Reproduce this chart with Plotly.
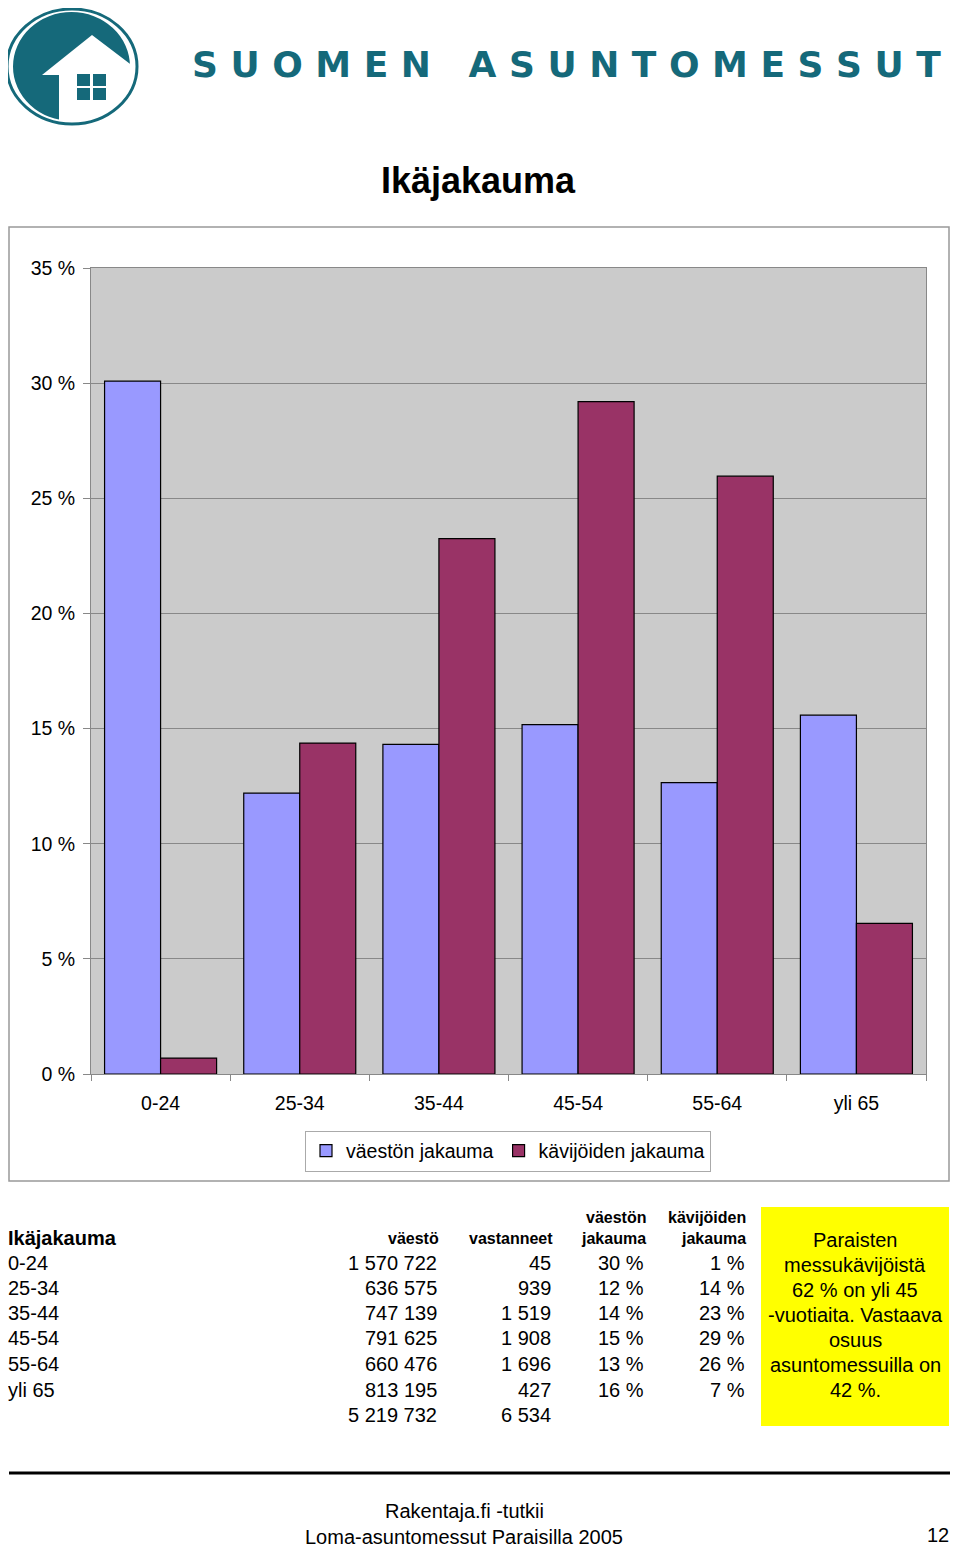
import plotly.graph_objects as go

W, H = 960, 1545

# data
ika = ["0-24", "25-34", "35-44", "45-54", "55-64", "yli 65"]
vaesto = ["1 570 722", "636 575", "747 139", "791 625", "660 476", "813 195"]
vastanneet = ["45", "939", "1 519", "1 908", "1 696", "427"]
vaeston_jakauma = [30.09, 12.20, 14.31, 15.17, 12.65, 15.58]
kavijoiden_jakauma = [0.69, 14.37, 23.25, 29.20, 25.96, 6.54]
vaeston_txt = ["30 %", "12 %", "14 %", "15 %", "13 %", "16 %"]
kavijoiden_txt = ["1 %", "14 %", "23 %", "29 %", "26 %", "7 %"]
yhteensa = ["5 219 732", "6 534"]
y_ticks = [0, 5, 10, 15, 20, 25, 30, 35]
y_labels = ["0 %", "5 %", "10 %", "15 %", "20 %", "25 %", "30 %", "35 %"]

TEAL = "#15697a"
FONT = "Liberation Sans, Arial, sans-serif"
OFF = 8  # page body margin


def X(px):
    return (px - OFF) / W


def Y(py):
    return 1 - (py - OFF) / H


fig = go.Figure()
fig.add_trace(go.Bar(x=ika, y=vaeston_jakauma, name="väestön jakauma",
                     marker=dict(color="#9999ff", line=dict(color="black", width=1.2))))
fig.add_trace(go.Bar(x=ika, y=kavijoiden_jakauma, name="kävijöiden jakauma",
                     marker=dict(color="#993366", line=dict(color="black", width=1.2))))

fig.update_layout(
    width=W, height=H,
    margin=dict(l=0, r=0, t=0, b=0, autoexpand=False),
    paper_bgcolor="white",
    plot_bgcolor="#cbcbcb",
    barmode="group", bargap=0.195, bargroupgap=0,
    font=dict(family=FONT, size=19.5, color="black"),
    showlegend=True,
    legend=dict(orientation="h", x=X(508), y=Y(1151), xanchor="center", yanchor="middle",
                bordercolor="#aaaaaa", borderwidth=1, font=dict(size=19.5),
                itemwidth=30, tracegroupgap=0),
)
fig.update_xaxes(domain=[X(91), X(926)], showline=True, linecolor="#888888", mirror=True,
                 ticks="outside", tickson="boundaries", ticklen=6, tickcolor="#888888",
                 ticklabelstandoff=12, tickfont=dict(size=19.5), showgrid=False, automargin=False)
fig.update_yaxes(domain=[Y(1074), Y(268)], range=[0, 35], tickvals=y_ticks, ticktext=y_labels,
                 showline=True, linecolor="#888888", mirror=True, ticks="outside", ticklen=7,
                 tickcolor="#888888", gridcolor="#888888", gridwidth=1, tickfont=dict(size=19.5),
                 ticklabelstandoff=4, zeroline=False, automargin=False)

shapes = []
# chart area frame
shapes.append(dict(type="rect", xref="paper", yref="paper", x0=X(9), x1=X(949), y0=Y(1181), y1=Y(227),
                   line=dict(color="#999999", width=1.5), layer="below"))
# logo
shapes.append(dict(type="circle", xref="paper", yref="paper", x0=X(13), x1=X(130), y0=Y(121), y1=Y(12),
                   fillcolor=TEAL, line=dict(width=0)))
shapes.append(dict(type="path", xref="paper", yref="paper",
                   path="M {} {} L {} {} L {} {} L {} {} L {} {} L {} {} Z".format(
                       X(92), Y(35), X(42), Y(75), X(59), Y(75), X(59), Y(128), X(142), Y(128), X(142), Y(73)),
                   fillcolor="white", line=dict(width=0)))
shapes.append(dict(type="circle", xref="paper", yref="paper", x0=X(7), x1=X(137), y0=Y(124), y1=Y(9),
                   line=dict(color=TEAL, width=3)))
for wx, wy in [(77, 74), (93, 74), (77, 88), (93, 88)]:
    shapes.append(dict(type="rect", xref="paper", yref="paper", x0=X(wx), x1=X(wx + 13),
                       y0=Y(wy + 12), y1=Y(wy), fillcolor=TEAL, line=dict(width=0)))
# yellow box
shapes.append(dict(type="rect", xref="paper", yref="paper", x0=X(761), x1=X(949), y0=Y(1426), y1=Y(1207),
                   fillcolor="#ffff00", line=dict(width=0)))
# footer line
shapes.append(dict(type="line", xref="paper", yref="paper", x0=X(9), x1=X(950), y0=Y(1473), y1=Y(1473),
                   line=dict(color="black", width=3)))
fig.update_layout(shapes=shapes)


def txt(s, x, y, size=20, anchor="left", bold=False, color="black", family=FONT):
    if bold:
        s = "<b>" + s + "</b>"
    fig.add_annotation(text=s, x=X(x), y=Y(y), xref="paper", yref="paper", showarrow=False,
                       xanchor=anchor, yanchor="middle", font=dict(size=size, color=color, family=family))


txt("S U O M E N   A S U N T O M E S S U T", 566, 64, size=36, anchor="center", bold=True,
    color=TEAL, family="DejaVu Sans, sans-serif")
txt("Ikäjakauma", 478, 180, size=36, anchor="center", bold=True)

# table
txt("Ikäjakauma", 6, 1238, size=20, bold=True)
txt("väestö", 441, 1238, size=16, anchor="right", bold=True)
txt("vastanneet", 555, 1238, size=16, anchor="right", bold=True)
txt("väestön", 648, 1217, size=16, anchor="right", bold=True)
txt("jakauma", 648, 1238, size=16, anchor="right", bold=True)
txt("kävijöiden", 748, 1217, size=16, anchor="right", bold=True)
txt("jakauma", 748, 1238, size=16, anchor="right", bold=True)
row_y = [1263, 1288, 1313, 1338, 1364, 1390]
for i, yy in enumerate(row_y):
    txt(ika[i], 6, yy)
    txt(vaesto[i], 439, yy, anchor="right")
    txt(vastanneet[i], 553, yy, anchor="right")
    txt(vaeston_txt[i], 646, yy, anchor="right")
    txt(kavijoiden_txt[i], 747, yy, anchor="right")
txt(yhteensa[0], 439, 1415, anchor="right")
txt(yhteensa[1], 553, 1415, anchor="right")

box_lines = ["Paraisten", "messukävijöistä", "62 % on yli 45", "-vuotiaita. Vastaava",
             "osuus", "asuntomessuilla on", "42 %."]
for i, line in enumerate(box_lines):
    txt(line, 855, 1240 + 25 * i, anchor="center")

# footer
txt("Rakentaja.fi -tutkii", 464, 1511, anchor="center")
txt("Loma-asuntomessut Paraisilla 2005", 464, 1537, anchor="center")
txt("12", 951, 1535, anchor="right")

fig.write_html("out.html")
